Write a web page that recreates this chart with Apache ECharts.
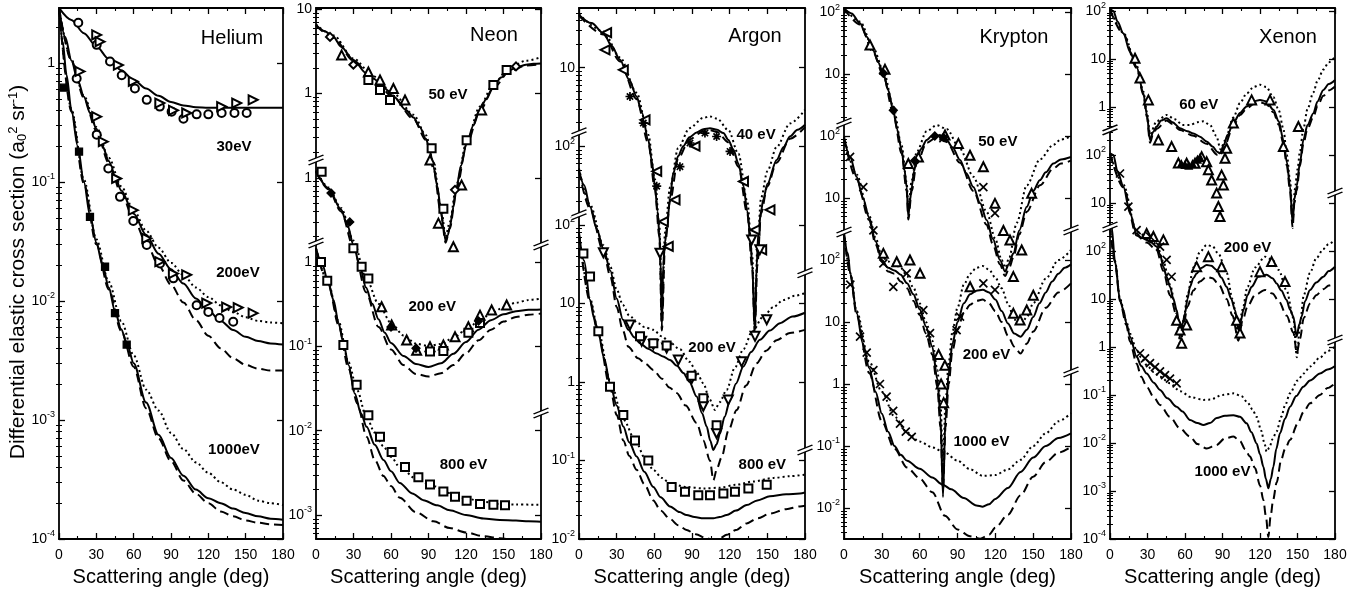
<!DOCTYPE html>
<html><head><meta charset="utf-8">
<script src="https://cdn.jsdelivr.net/npm/echarts@6/dist/echarts.min.js"></script>
<style>html,body{margin:0;padding:0;background:#fff}#c{width:1356px;height:599px}</style>
</head><body><div id="c"></div>
<script>
// ===== DATA: [scattering angle (deg), DCS (a0^2/sr)] =====
// Helium (no offsets)
const he30Solid=[[0,2.9],[10,2.3],[20,1.78],[30,1.38],[40,1.08],[50,0.87],[60,0.72],[70,0.61],[80,0.53],[90,0.47],[100,0.44],[110,0.425],[120,0.42],[140,0.42],[160,0.42],[180,0.42]];
const he30Circ=[[15.5,2.18],[30.3,1.42],[41,1.03],[50.4,0.79],[61,0.61],[70.5,0.49],[81,0.43],[90.5,0.39],[100,0.34],[110.6,0.37],[120,0.37],[130.7,0.38],[141,0.38],[150.8,0.38]];
const he30Tri=[[30.3,1.72],[33,1.51],[47.7,0.96],[59.7,0.70],[81,0.46],[92,0.40],[102.6,0.38],[130.7,0.43],[142.8,0.46],[156,0.49]];
const he200Solid=[[0,2.9],[5,1.65],[10,1.05],[15,0.72],[20,0.52],[25,0.38],[30,0.28],[35,0.2],[40,0.15],[45,0.11],[50,0.085],[60,0.054],[70,0.036],[80,0.025],[90,0.0185],[100,0.014],[110,0.0105],[120,0.0083],[130,0.0068],[140,0.0057],[150,0.005],[160,0.0046],[170,0.0044],[180,0.0043]];
const he200Dot=[[0,2.9],[10,1.06],[20,0.53],[30,0.29],[40,0.16],[50,0.092],[60,0.058],[70,0.039],[80,0.028],[90,0.021],[100,0.0165],[110,0.013],[120,0.0108],[130,0.0092],[140,0.0081],[150,0.0073],[160,0.0068],[170,0.0066],[180,0.0065]];
const he200Dash=[[0,2.9],[10,1.04],[20,0.51],[30,0.27],[40,0.145],[50,0.08],[60,0.049],[70,0.031],[80,0.02],[90,0.0137],[100,0.0097],[110,0.0069],[120,0.0051],[130,0.004],[140,0.0033],[150,0.0029],[160,0.0027],[170,0.0026],[180,0.0026]];
const he200Circ=[[14.2,0.74],[30.3,0.25],[39.6,0.13],[49,0.075],[59.7,0.047],[70.5,0.0295],[81.2,0.0207],[91.9,0.0155],[110.6,0.0092],[120,0.0081],[129,0.0072],[140,0.0067]];
const he200Tri=[[16.9,0.85],[30.3,0.354],[35.6,0.218],[46.3,0.107],[59.7,0.058],[70.5,0.0336],[81,0.0214],[91.9,0.017],[102.6,0.0166],[118.7,0.0096],[134.7,0.0089],[144,0.0088],[156,0.0079]];
const he1000Solid=[[0,2.9],[3,1.5],[6,0.8],[10,0.4],[15,0.2],[20,0.1],[25,0.052],[30,0.031],[35,0.02],[40,0.013],[45,0.0082],[50,0.0058],[55,0.0042],[60,0.003],[70,0.0014],[80,0.00075],[90,0.00048],[100,0.00034],[110,0.00026],[120,0.00022],[130,0.0002],[140,0.00018],[150,0.000165],[160,0.000155],[170,0.000148],[180,0.000145]];
const he1000Dot=[[0,2.9],[10,0.41],[20,0.105],[30,0.033],[40,0.0145],[50,0.0068],[60,0.0035],[70,0.0018],[80,0.0012],[90,0.00078],[100,0.00057],[110,0.00044],[120,0.00036],[130,0.0003],[140,0.00026],[150,0.000235],[160,0.00021],[170,0.0002],[180,0.000193]];
const he1000Dash=[[0,2.9],[10,0.39],[20,0.097],[30,0.03],[40,0.0125],[50,0.0056],[60,0.0028],[70,0.00125],[80,0.0007],[90,0.00045],[100,0.00031],[110,0.00024],[120,0.0002],[130,0.00017],[140,0.000155],[150,0.000143],[160,0.000137],[170,0.000133],[180,0.000131]];
const he1000Sq=[[4,0.62],[16.1,0.18],[24.9,0.051],[37,0.0194],[45,0.0079],[54.4,0.0043]];

// Neon (plotted with offsets: 50 eV x100, 200 eV x10)
const ne50Solid=[[0,6.5],[7,5.5],[14,4.7],[20,3.6],[30,2.5],[40,1.75],[46,1.5],[55,1.15],[62,0.92],[72,0.64],[78,0.52],[83,0.4],[88,0.29],[91,0.21],[94,0.135],[97,0.08],[100,0.04],[102,0.025],[103.7,0.018],[105.5,0.021],[107,0.026],[110,0.045],[112.5,0.078],[116,0.14],[120.5,0.256],[126,0.42],[131,0.64],[136,0.85],[142,1.2],[148,1.55],[155,1.9],[162,2.08],[168,2.2],[174,2.25],[180,2.28]];
const ne50Dot=[[0,6.6],[14,4.9],[30,2.6],[46,1.6],[62,1.0],[78,0.56],[88,0.32],[94,0.15],[100,0.045],[103.7,0.02],[107,0.03],[112.5,0.085],[120.5,0.27],[131,0.7],[142,1.3],[155,2.05],[168,2.45],[180,2.7]];
const ne50Dash=[[0,6.4],[14,4.6],[30,2.45],[46,1.45],[62,0.9],[78,0.5],[88,0.28],[94,0.13],[100,0.038],[103.7,0.017],[107,0.025],[112.5,0.075],[120.5,0.25],[131,0.62],[142,1.17],[155,1.85],[168,2.15],[180,2.22]];
const ne50Tri=[[20.5,2.86],[41.9,1.8],[51.2,1.45],[61.9,1.15],[71.2,0.84],[91.2,0.163],[97.9,0.029],[109.9,0.0152],[116.5,0.082],[132.5,0.64]];
const ne50Sq=[[41.9,1.45],[51.2,1.1],[59.2,0.84],[92.5,0.224],[101.9,0.043],[120.5,0.28],[141.9,1.26],[152.5,1.9]];
const ne50Dia=[[11.2,4.7],[29.9,2.2],[111.2,0.072],[160,2.1]];
const ne200Solid=[[0,1.2],[10,0.75],[20,0.42],[25,0.28],[30,0.16],[35,0.09],[40,0.05],[45,0.032],[50,0.021],[55,0.0145],[60,0.011],[70,0.0077],[80,0.0062],[90,0.0057],[100,0.0063],[110,0.0082],[120,0.0113],[130,0.0158],[140,0.0205],[150,0.024],[160,0.0262],[170,0.0272],[180,0.0275]];
const ne200Dot=[[0,1.22],[10,0.77],[20,0.44],[30,0.18],[40,0.065],[50,0.032],[60,0.019],[70,0.0135],[80,0.0108],[90,0.0101],[100,0.0107],[110,0.0127],[120,0.0157],[130,0.0198],[140,0.0245],[150,0.029],[160,0.033],[170,0.0355],[180,0.037]];
const ne200Dash=[[0,1.18],[10,0.73],[20,0.4],[30,0.15],[40,0.044],[50,0.017],[60,0.0092],[70,0.006],[80,0.0047],[90,0.0044],[100,0.0048],[110,0.006],[120,0.0083],[130,0.0118],[140,0.0158],[150,0.0197],[160,0.0224],[170,0.0238],[180,0.0245]];
const ne200Tri=[[52.5,0.0296],[60.5,0.018],[72.5,0.0119],[80.5,0.009],[91.2,0.0099],[101.9,0.0104],[111.2,0.013],[121.9,0.0171],[131.2,0.0235],[140.5,0.027],[152.5,0.031]];
const ne200Sq=[[4.5,1.18],[29.9,0.146],[36.5,0.088],[41.9,0.064],[91.2,0.0087],[101.9,0.0088],[121.9,0.0145],[131.2,0.019]];
const ne200Dia=[[12,0.66],[27,0.3],[60,0.017],[80,0.0095],[130,0.02]];
const ne800Solid=[[0,1.45],[5,0.95],[10,0.55],[14,0.355],[18,0.19],[22,0.109],[26,0.06],[31,0.0277],[36,0.016],[40.5,0.0111],[47,0.0068],[54,0.0045],[60,0.0033],[67,0.0024],[77,0.0018],[86,0.0015],[97,0.0013],[107,0.00114],[120,0.001],[134,0.00091],[147,0.00087],[160,0.00086],[170,0.00084],[180,0.00083]];
const ne800Dot=[[0,1.46],[10,0.56],[18,0.2],[26,0.065],[33,0.03],[40,0.015],[47,0.0095],[54,0.0065],[60,0.0049],[67,0.0037],[80,0.0027],[94,0.0022],[107,0.00182],[120,0.00157],[134,0.00143],[147,0.00135],[160,0.00133],[180,0.00132]];
const ne800Dash=[[0,1.44],[10,0.54],[18,0.18],[26,0.055],[33,0.021],[40.5,0.0085],[47,0.0045],[54,0.0029],[60,0.0022],[67,0.0016],[80,0.00108],[94,0.00084],[107,0.0007],[120,0.00062],[134,0.00056],[147,0.00053],[160,0.0005],[180,0.00048]];
const ne800Sq=[[4,1.0],[9,0.6],[21.9,0.104],[32.5,0.035],[41.9,0.0153],[51.2,0.0085],[60.5,0.0056],[71.2,0.0037],[81.9,0.0028],[91.2,0.0023],[101.9,0.0019],[111.2,0.00165],[120.5,0.00148],[131.2,0.00135],[141.9,0.00132],[151.2,0.0013]];

// Argon (offsets: 40 eV x1000, 200 eV x10)
const ar40Solid=[[0,47],[10,37],[19.4,27.6],[26,19],[32.7,12.6],[40,7],[45.9,4.3],[50,2.7],[55.2,1.2],[58,0.65],[60.5,0.31],[62.5,0.15],[64,0.078],[65,0.035],[66,0.005],[67,0.03],[68.5,0.06],[70,0.09],[72.5,0.22],[75,0.45],[79,0.75],[83,1.0],[88,1.3],[93.7,1.5],[99,1.65],[104.3,1.7],[110,1.62],[115,1.47],[119,1.2],[123,0.9],[127,0.6],[131,0.31],[134,0.15],[136.2,0.078],[138,0.03],[140,0.0046],[141.5,0.03],[142.8,0.078],[145,0.15],[146.8,0.21],[150,0.33],[157.4,0.67],[163,0.98],[168,1.33],[174,1.62],[180,1.88]];
const ar40Dot=[[0,48],[19.4,29],[32.7,13.5],[45.9,4.8],[55.2,1.4],[60.5,0.38],[64,0.1],[66,0.006],[68.5,0.08],[72.5,0.3],[79,0.95],[88,1.7],[99,2.3],[104.3,2.4],[110,2.25],[119,1.6],[127,0.8],[134,0.2],[138,0.04],[140,0.005],[142,0.05],[145,0.22],[150,0.48],[157.4,0.98],[168,1.95],[180,2.9]];
const ar40Dash=[[0,46],[19.4,26.5],[32.7,12],[45.9,4.0],[55.2,1.1],[60.5,0.28],[64,0.07],[66,0.0045],[68.5,0.055],[72.5,0.2],[79,0.7],[88,1.22],[99,1.55],[104.3,1.6],[110,1.52],[119,1.12],[127,0.55],[134,0.14],[138,0.028],[140,0.004],[142,0.03],[145,0.14],[150,0.31],[157.4,0.62],[168,1.25],[180,1.75]];
const ar40TriL=[[22,27.9],[20.7,16.9],[35.3,9.4],[52.6,2.17],[61.9,0.48],[67.2,0.11],[71.1,0.053],[76.5,0.208],[92.4,1.0],[131,0.356],[140.2,0.086],[145.5,0.048],[152.1,0.155]];
const ar40TriD=[[64.5,0.0435],[137.5,0.064],[144,0.048]];
const ar40Star=[[40.6,4.3],[51.2,1.97],[61.9,0.31],[80.4,0.55],[88.4,1.1],[100.3,1.47],[109.6,1.33],[120.3,0.86]];
const ar200Solid=[[0,50],[4,32],[8.8,17],[14,9],[19.4,5.0],[25,2.6],[30,1.15],[35,0.62],[39.3,0.46],[44,0.37],[48.6,0.31],[55,0.265],[61.9,0.23],[67,0.21],[72.5,0.19],[78,0.16],[83.1,0.13],[88,0.1],[93.7,0.065],[98,0.04],[101.7,0.027],[104.5,0.018],[107,0.0136],[109.5,0.016],[112.3,0.022],[116,0.036],[120.3,0.059],[125,0.095],[130.9,0.157],[137,0.24],[144.1,0.343],[152,0.45],[160.1,0.56],[170,0.68],[180,0.76]];
const ar200Dot=[[0,52],[8.8,18],[19.4,5.5],[25,2.9],[30,1.5],[35,0.95],[40,0.7],[47,0.56],[52,0.5],[59.2,0.46],[66,0.38],[72,0.32],[80.4,0.26],[88,0.18],[94,0.13],[99,0.096],[104,0.06],[108.3,0.044],[112,0.055],[117.6,0.079],[124,0.15],[130.9,0.26],[138,0.44],[146.8,0.68],[155,0.9],[162.7,1.1],[172,1.25],[180,1.35]];
const ar200Dash=[[0,48],[8.8,16],[19.4,4.6],[25,2.2],[30,0.9],[35,0.45],[39.3,0.28],[47,0.2],[53,0.17],[59.2,0.142],[66,0.11],[72,0.085],[77.8,0.072],[85,0.05],[93.7,0.03],[99,0.018],[104.3,0.01],[107,0.0056],[110,0.008],[113.6,0.011],[119,0.024],[125.6,0.044],[133,0.09],[141.5,0.173],[149,0.25],[157.4,0.34],[168,0.42],[180,0.46]];
const ar200TriD=[[19.4,4.4],[40.6,0.53],[49.9,0.33],[59.2,0.30],[69.8,0.27],[79.1,0.19],[89.7,0.11],[99,0.049],[109.6,0.022],[118.9,0.059],[129.5,0.18],[140.2,0.38],[149.5,0.62]];
const ar200Sq=[[48.6,0.38],[59.2,0.31],[69.8,0.29],[89.7,0.12],[99,0.062],[109.6,0.028]];
const ar800Solid=[[0,78],[4,35],[8.8,11],[12,6.5],[15.4,4.2],[20,2],[24.7,0.96],[30,0.5],[35.3,0.27],[40,0.17],[45.9,0.112],[52,0.072],[59.2,0.046],[65,0.034],[72.5,0.026],[80,0.022],[85.7,0.0202],[92,0.019],[99,0.0184],[107,0.0184],[112,0.019],[117.6,0.0202],[125,0.023],[133.5,0.027],[142,0.031],[152.1,0.035],[165,0.037],[176,0.038],[180,0.039]];
const ar800Dot=[[0,80],[8.8,11.5],[15.4,4.4],[24.7,1.05],[35.3,0.33],[45.9,0.166],[52,0.11],[59.2,0.076],[66,0.06],[72.5,0.051],[85,0.046],[99,0.044],[112.3,0.045],[125,0.049],[138.8,0.054],[155,0.06],[168,0.063],[180,0.066]];
const ar800Dash=[[0,76],[8.8,10.5],[15.4,4.0],[24.7,0.85],[30,0.38],[35.3,0.18],[40,0.115],[45.9,0.076],[52,0.05],[59.2,0.031],[65,0.023],[72.5,0.018],[79,0.015],[85.7,0.013],[93,0.0115],[101.7,0.0102],[107,0.0096],[112,0.0102],[117.6,0.0113],[125,0.013],[133.5,0.0158],[142,0.0183],[152.1,0.021],[165,0.024],[176,0.026],[180,0.0265]];
const ar800Sq=[[3.5,43],[8.8,22],[15.4,4.4],[24.7,0.87],[35.3,0.38],[44.6,0.18],[55.2,0.1],[73.8,0.046],[84.4,0.04],[95,0.036],[104.3,0.036],[115,0.038],[124.2,0.04],[134.9,0.044],[149.5,0.049]];

// Krypton (offsets: 50 eV x1e4, 200 eV x100)
const kr50Solid=[[0,115],[6,95],[12.7,66],[18,40],[23.3,24],[27,15.5],[31.2,10.3],[35,5.5],[39.1,2.6],[42,1.3],[45.7,0.6],[48,0.28],[49.7,0.15],[51,0.05],[52.3,0.09],[53.7,0.15],[55.5,0.27],[57.6,0.41],[61,0.62],[65.6,0.86],[69,0.98],[73.5,1.04],[77,1.0],[81.4,0.86],[86,0.66],[92,0.41],[97,0.25],[102.6,0.15],[108,0.082],[113.1,0.044],[118,0.022],[123.7,0.01],[127.7,0.0065],[130.5,0.0085],[134.3,0.0128],[139,0.03],[144.9,0.072],[150,0.13],[155.4,0.195],[160,0.26],[166,0.36],[172,0.42],[180,0.46]];
const kr50Dot=[[0,118],[12.7,70],[23.3,26],[31.2,11.5],[39.1,3.0],[45.7,0.7],[49.7,0.18],[51,0.07],[53.7,0.19],[57.6,0.55],[65.6,1.2],[73.5,1.5],[81.4,1.3],[92,0.62],[102.6,0.22],[113.1,0.06],[120,0.022],[125,0.01],[128,0.0075],[131,0.011],[137,0.04],[144.9,0.16],[155.4,0.42],[166,0.72],[172,0.88],[180,0.98]];
const kr50Dash=[[0,112],[12.7,63],[23.3,22],[31.2,9.5],[39.1,2.3],[45.7,0.52],[49.7,0.13],[51,0.045],[53.7,0.13],[57.6,0.36],[65.6,0.78],[73.5,0.95],[81.4,0.8],[92,0.37],[102.6,0.13],[113.1,0.037],[118,0.018],[123.7,0.0085],[127.7,0.0055],[131,0.0075],[134.3,0.011],[139,0.026],[144.9,0.06],[155.4,0.16],[166,0.3],[172,0.36],[180,0.4]];
const kr50Tri=[[20.6,29.4],[32.5,11.9],[51,0.36],[59,0.46],[80.1,1.04],[90.7,0.76],[99.9,0.49],[110.5,0.32],[119.7,0.082],[126.4,0.03],[131.6,0.021],[134.3,0.0054],[140.9,0.0145],[148.8,0.119]];
const kr50X=[[78.8,0.92],[110.5,0.15],[119.7,0.057]];
const kr50Fill=[[31.2,10.3],[39.1,2.6],[56,0.4],[72,1.0],[78.8,0.95]];
const kr200Solid=[[0,95],[5,45],[10,22],[15,10],[20,4.8],[25,2.0],[30,1.0],[35,0.75],[40,0.68],[45,0.58],[50,0.42],[55,0.28],[60,0.16],[65,0.085],[70,0.04],[74,0.012],[76.5,0.003],[78.5,0.00015],[80.5,0.003],[83,0.015],[86,0.045],[90,0.1],[95,0.2],[100,0.28],[105,0.32],[110,0.33],[115,0.3],[120,0.23],[125,0.15],[130,0.095],[135,0.065],[140,0.058],[145,0.075],[150,0.12],[155,0.2],[160,0.3],[165,0.45],[170,0.6],[175,0.75],[180,0.85]];
const kr200Dot=[[0,98],[10,24],[20,5.2],[25,2.3],[30,1.15],[35,0.95],[40,0.85],[45,0.75],[50,0.55],[55,0.36],[60,0.2],[65,0.1],[70,0.05],[74,0.017],[76.5,0.005],[78.5,0.0005],[80.5,0.005],[83,0.022],[86,0.07],[90,0.17],[95,0.4],[100,0.6],[105,0.75],[110,0.8],[115,0.7],[120,0.52],[125,0.35],[130,0.2],[135,0.11],[140,0.09],[145,0.12],[150,0.2],[160,0.5],[170,1.0],[180,1.45]];
const kr200Dash=[[0,92],[10,20],[20,4.4],[25,1.8],[30,0.95],[35,0.65],[40,0.6],[45,0.45],[50,0.35],[55,0.22],[60,0.13],[65,0.065],[70,0.03],[74,0.009],[76.5,0.002],[78.5,0.0002],[80.5,0.002],[83,0.01],[86,0.035],[90,0.075],[95,0.14],[100,0.19],[105,0.22],[110,0.23],[115,0.2],[120,0.15],[125,0.1],[130,0.06],[135,0.04],[140,0.031],[145,0.045],[150,0.07],[160,0.17],[170,0.3],[180,0.42]];
const kr200X=[[4.8,46],[15.3,15],[23.3,3.0],[31.2,0.885],[39.1,0.37],[49.7,0.61],[62.9,0.156],[68.2,0.066],[89.3,0.074],[92,0.122],[110.5,0.42],[119.7,0.33]];
const kr200Tri=[[31.2,1.28],[41.8,0.94],[52.3,1.0],[60.3,0.61],[75,0.03],[77,0.01],[79,0.005],[80,0.02],[100,0.37],[134.3,0.138],[139.6,0.108],[144.9,0.156],[150.1,0.27]];
const kr1000Solid=[[0,270],[3,130],[5,60],[10,14],[15,4.5],[20,1.8],[25,0.75],[30,0.33],[35,0.17],[40,0.1],[45,0.072],[50,0.058],[60,0.043],[70,0.031],[78,0.024],[85,0.02],[95,0.0145],[105,0.011],[110,0.0105],[115,0.0115],[120,0.014],[130,0.021],[140,0.038],[150,0.065],[160,0.1],[170,0.135],[180,0.16]];
const kr1000Dot=[[0,275],[5,62],[10,15],[20,2.3],[30,0.75],[40,0.3],[50,0.165],[60,0.118],[70,0.095],[80,0.078],[90,0.058],[100,0.042],[110,0.033],[120,0.034],[130,0.042],[140,0.06],[150,0.1],[160,0.16],[170,0.25],[180,0.34]];
const kr1000Dash=[[0,265],[5,58],[10,13],[20,1.5],[30,0.25],[40,0.09],[50,0.045],[60,0.03],[70,0.018],[80,0.0075],[90,0.0045],[100,0.0035],[108,0.0032],[115,0.0037],[120,0.0048],[130,0.0078],[140,0.016],[150,0.032],[160,0.055],[170,0.078],[180,0.097]];
const kr1000X=[[5,40],[12.7,5.8],[18,3.2],[23.3,1.68],[28.5,1.0],[33.8,0.625],[39,0.37],[44.4,0.23],[49,0.17],[53.7,0.14]];

// Xenon (offsets: 60 eV x1e5, 200 eV x100)
const xe60Solid=[[0,110],[2.7,100],[6,60],[10.7,34],[16,14],[21.3,6.9],[26.7,1.93],[29.5,0.7],[32,0.205],[34.5,0.3],[37.3,0.39],[41,0.52],[45.3,0.58],[50,0.48],[56,0.36],[62,0.31],[66.7,0.28],[72,0.24],[77.3,0.19],[82,0.15],[86,0.115],[88,0.108],[91,0.16],[94,0.26],[98.7,0.46],[104,0.75],[109.3,1.02],[115,1.3],[120,1.4],[125,1.3],[130.7,0.87],[135,0.5],[138.7,0.205],[141.5,0.07],[144,0.022],[146.1,0.0038],[147.5,0.012],[149.3,0.022],[152,0.07],[154.7,0.205],[158,0.42],[162.7,0.74],[166,1.3],[170.7,2.26],[175,3.0],[180,3.65]];
const xe60Dot=[[0,112],[10.7,35],[21.3,7.2],[26.7,2.1],[29.5,0.8],[32,0.27],[37.3,0.5],[45.3,0.68],[52,0.55],[58,0.42],[64,0.42],[70,0.48],[74.7,0.5],[80,0.42],[85,0.25],[88.5,0.13],[92,0.2],[98.7,0.6],[104,1.2],[109.3,1.9],[115,2.6],[120,2.9],[125,2.6],[130.7,1.6],[135,0.85],[138.7,0.35],[141.5,0.1],[144,0.03],[146.1,0.005],[148,0.02],[150,0.05],[152,0.12],[154.7,0.35],[158,0.9],[162.7,2.0],[166,3.5],[170.7,6],[175,8.5],[180,11]];
const xe60Dash=[[0,106],[10.7,33],[21.3,6.5],[26.7,1.8],[29.5,0.62],[32,0.18],[34.5,0.27],[37.3,0.35],[45.3,0.52],[50,0.44],[56,0.33],[66.7,0.25],[77.3,0.17],[86,0.1],[88,0.095],[91,0.14],[98.7,0.4],[104,0.68],[109.3,0.92],[115,1.15],[120,1.25],[125,1.15],[130.7,0.77],[135,0.43],[138.7,0.17],[141.5,0.06],[144,0.018],[146.1,0.003],[147.5,0.01],[149.3,0.018],[152,0.06],[154.7,0.17],[158,0.35],[162.7,0.62],[166,1.05],[170.7,1.7],[175,2.2],[180,2.65]];
const xe60Tri=[[20,10.3],[24,4.0],[30.7,1.4],[38.7,0.205],[49.3,0.149],[54.7,0.068],[61.3,0.067],[68,0.067],[73.3,0.092],[77.3,0.072],[78.7,0.049],[81.3,0.03],[85.3,0.016],[86.7,0.0084],[88,0.0052],[89.3,0.038],[90.7,0.0237],[92,0.085],[93.3,0.138],[98.7,0.46],[113.3,1.4],[128,1.4],[138.7,0.149],[150.7,0.39]];
const xe60Fill=[[57,0.065],[60,0.062],[63,0.06],[66,0.065],[70,0.08],[72,0.088]];
const xe200Solid=[[0,108],[2.7,100],[6,45],[10.7,22],[16,6.1],[21.3,2.3],[25,1.9],[29.3,1.7],[33,1.5],[37.3,1.23],[40,0.85],[42.7,0.47],[45.3,0.29],[48,0.18],[50.7,0.1],[53.3,0.059],[55,0.035],[56.5,0.0193],[58,0.03],[60,0.05],[62,0.1],[64,0.18],[66.7,0.27],[69.3,0.34],[73,0.44],[77.3,0.51],[81,0.49],[85.3,0.4],[89,0.28],[93.3,0.18],[97,0.1],[100,0.059],[102.7,0.0226],[104.7,0.035],[106.7,0.059],[110,0.12],[113.3,0.18],[118.7,0.29],[125.3,0.32],[130,0.27],[133.3,0.21],[137,0.15],[141.3,0.095],[144,0.06],[146.7,0.043],[149.3,0.0164],[151.5,0.03],[153.3,0.043],[156,0.09],[160,0.154],[165,0.22],[170.7,0.29],[175,0.38],[180,0.47]];
const xe200Dot=[[0,110],[10.7,24],[21.3,2.5],[29.3,2.0],[37.3,1.4],[42.7,0.6],[48,0.2],[53.3,0.05],[56.5,0.01],[59,0.04],[62,0.12],[66.7,0.45],[72,0.95],[77.3,1.33],[82,1.25],[87,0.85],[93.3,0.35],[98,0.1],[102.7,0.019],[106,0.06],[110,0.18],[116,0.45],[124,0.76],[130,0.65],[135,0.4],[141.3,0.15],[146.7,0.04],[149.5,0.0061],[152,0.03],[155,0.12],[160,0.35],[165,0.7],[170.7,1.1],[175,1.4],[180,1.7]];
const xe200Dash=[[0,105],[10.7,21],[21.3,2.1],[29.3,1.5],[37.3,1.05],[42.7,0.38],[48,0.12],[53.3,0.045],[56.5,0.014],[59,0.03],[62,0.07],[66.7,0.15],[72,0.23],[77.3,0.29],[82,0.27],[87,0.2],[93.3,0.1],[98,0.045],[102.7,0.0135],[106,0.035],[110,0.07],[116,0.12],[124,0.154],[130,0.13],[135,0.09],[141.3,0.045],[146.7,0.02],[149.5,0.0074],[152,0.015],[155,0.04],[160,0.08],[165,0.12],[170.7,0.16],[175,0.19],[180,0.21]];
const xe200Tri=[[29.3,2.3],[34.7,2.0],[42.7,1.7],[53.3,0.036],[56,0.0226],[57.3,0.012],[61.3,0.0286],[69.3,0.47],[78.7,0.76],[89.3,0.47],[101.3,0.036],[104,0.0195],[120,0.37],[129.3,0.6],[140,0.23]];
const xe200X=[[8,41],[14.7,8.4],[21.3,2.7],[32,2.0],[40,1.23],[45.3,0.65],[49.3,0.29]];
const xe1000Solid=[[0,330],[1.3,320],[4,60],[8,9.5],[10.7,5.9],[13,3.2],[16,1.64],[21.3,0.63],[25,0.4],[29.3,0.28],[35,0.18],[40,0.127],[46,0.085],[53.3,0.057],[58,0.045],[64,0.03],[70,0.026],[74.7,0.0237],[80,0.026],[85.3,0.033],[92,0.037],[98.7,0.038],[104,0.035],[109.3,0.0257],[113,0.017],[117.3,0.0098],[120,0.0058],[122.7,0.0032],[124.7,0.0018],[126.7,0.00114],[128.7,0.0018],[130.7,0.0032],[133,0.0075],[136,0.0159],[140,0.032],[144,0.057],[149,0.095],[154.7,0.149],[160,0.2],[168,0.28],[174,0.34],[180,0.4]];
const xe1000Dot=[[0,335],[4,62],[8,10],[13,3.5],[16,1.9],[21.3,0.85],[25,0.6],[30,0.4],[35,0.3],[40,0.24],[48,0.175],[56,0.12],[65,0.09],[74.7,0.079],[80,0.08],[90,0.1],[98.7,0.108],[105,0.095],[110,0.07],[114,0.05],[117.3,0.035],[121,0.018],[123.5,0.01],[125.3,0.0066],[127.5,0.008],[130,0.012],[133.3,0.0175],[137,0.035],[140,0.06],[144,0.108],[150,0.2],[155,0.28],[160,0.39],[168,0.6],[174,0.82],[180,1.02]];
const xe1000Dash=[[0,325],[4,58],[8,9],[13,2.9],[16,1.3],[21.3,0.45],[25,0.24],[29.3,0.149],[35,0.09],[40,0.062],[48,0.035],[56,0.02],[64,0.0136],[70,0.0095],[77.3,0.0077],[85,0.009],[92,0.0125],[98.7,0.0136],[104,0.011],[108,0.0075],[112,0.0052],[116,0.003],[120,0.0013],[122.7,0.00065],[124.7,0.0003],[126.7,0.00011],[128.5,0.0003],[130.5,0.00065],[133.3,0.0015],[137,0.0045],[140,0.0075],[144,0.0115],[150,0.025],[155,0.045],[160,0.067],[168,0.1],[174,0.14],[180,0.175]];
const xe1000X=[[24,0.74],[28,0.58],[32,0.46],[36,0.38],[40,0.31],[44,0.26],[48,0.22],[53.3,0.175]];

// Display offsets of the stacked energies (multiplicative factors)
const neFactor={e50:100,e200:10,e800:1};
const arFactor={e40:1000,e200:10,e800:1};
const krFactor={e50:1e4,e200:100,e1000:1};
const xeFactor={e60:1e5,e200:100,e1000:1};

// Tick labels (exponent of the plotted decade -> printed label)
const heTickExp=[-4,-3,-2,-1,0];
const heTickText=['10{s|-4}','10{s|-3}','10{s|-2}','10{s|-1}','1'];
const neTickExp=[-3,-2,-1,0,1,2,3];
const neTickText=['10{s|-3}','10{s|-2}','10{s|-1}','1','1','1','10'];
const arTickExp=[-2,-1,0,1,2,3,4];
const arTickText=['10{s|-2}','10{s|-1}','1','10','10{s|2}','10{s|2}','10'];
const krTickExp=[-2,-1,0,1,2,3,4,5,6];
const krTickText=['10{s|-2}','10{s|-1}','1','10','10{s|2}','10','10{s|2}','10','10{s|2}'];
const xeTickExp=[-4,-3,-2,-1,0,1,2,3,4,5,6,7];
const xeTickText=['10{s|-4}','10{s|-3}','10{s|-2}','10{s|-1}','1','10','10{s|2}','10','10{s|2}','1','10','10{s|2}'];
const xTicks=[0,30,60,90,120,150,180];

// ===== LAYOUT / STYLE =====
const FONT='"Liberation Sans", Arial, Helvetica, sans-serif';
const panels=[
 {name:'Helium',left:59,width:224,lo:-4,hi:0.462,exps:heTickExp,texts:heTickText,brL:[],brR:[],nameAt:[139,0.21],
  tags:[['30eV',140.6,-0.706],['200eV',143.8,-1.765],['1000eV',140.6,-3.252]]},
 {name:'Neon',left:316,width:225,lo:-3.285,hi:3.015,exps:neTickExp,texts:neTickText,brL:[1.211,0.226],brR:[0.203,-1.79],nameAt:[142.4,2.694],
  tags:[['50 eV',105.6,1.982],['200 eV',93,-0.533],['800 eV',118,-2.407]]},
 {name:'Argon',left:579,width:226,lo:-2,hi:4.76,exps:arTickExp,texts:arTickText,brL:[3.172,2.127],brR:[1.389,-0.866],nameAt:[140.2,4.395],
  tags:[['40 eV',141,3.146],['200 eV',106,0.433],['800 eV',146,-1.057]]},
 {name:'Krypton',left:844,width:227,lo:-2.5,hi:6.065,exps:krTickExp,texts:krTickText,brL:[4.21,2.452],brR:[2.484,0.194],nameAt:[134.8,5.597],
  tags:[['50 eV',122,3.903],['200 eV',113,0.468],['1000 eV',109,-0.935]]},
 {name:'Xenon',left:1110,width:225,lo:-4,hi:7.06,exps:xeTickExp,texts:xeTickText,brL:[4.521,2.5],brR:[3.208,0.146],nameAt:[142.4,6.4375],
  tags:[['60 eV',71,5.042],['200 eV',110,2.0625],['1000 eV',90,-2.604]]}
];
const SOLID={color:'#000',width:2,type:'solid'};
const DOT={color:'#000',width:2,type:[2,3]};
const DASH={color:'#000',width:2,type:[9,5]};
const SYM={
 circ:{symbol:'emptyCircle',size:8,rot:0},
 triR:{symbol:'emptyTriangle',size:9,rot:-90},
 triL:{symbol:'emptyTriangle',size:9,rot:90},
 triD:{symbol:'emptyTriangle',size:9,rot:180},
 triU:{symbol:'emptyTriangle',size:9,rot:0},
 sq:{symbol:'emptyRect',size:8,rot:0},
 sqF:{symbol:'rect',size:7,rot:0},
 dia:{symbol:'emptyDiamond',size:8,rot:0},
 diaF:{symbol:'diamond',size:8,rot:0},
 triF:{symbol:'triangle',size:7,rot:0},
 x:{symbol:'path://M0,0L10,10M10,0L0,10',size:8,rot:0,stroke:true},
 star:{symbol:'path://M5,0L5,10M0,5L10,5M1.5,1.5L8.5,8.5M8.5,1.5L1.5,8.5',size:9,rot:0,stroke:true}
};
const lg=v=>Math.log10(v);

function line(gi,data,f,ls){
  const d=data.slice().sort((a,b)=>a[0]-b[0]).map(p=>[p[0],lg(p[1]*f)]);
  return {type:'line',xAxisIndex:gi*2,yAxisIndex:gi*4,data:d,showSymbol:false,symbol:'none',
    smooth:0.3,smoothMonotone:'x',lineStyle:ls,silent:true,z:3,animation:false};
}
function pts(gi,data,f,key){
  const s=SYM[key];
  const o={type:'scatter',xAxisIndex:gi*2,yAxisIndex:gi*4,data:data.map(p=>[p[0],lg(p[1]*f)]),
    symbol:s.symbol,symbolSize:s.size,symbolRotate:s.rot,silent:true,z:4,clip:true};
  if(s.stroke){o.itemStyle={color:'rgba(0,0,0,0)',borderColor:'#000',borderWidth:1.7,opacity:1};}
  else {o.itemStyle={color:'#000',borderColor:'#000',borderWidth:1.3,opacity:1};}
  return o;
}

const option={animation:false,backgroundColor:'#fff',grid:[],xAxis:[],yAxis:[],series:[],
 graphic:[{type:'text',x:18,y:272,rotation:Math.PI/2,
   style:{text:'Differential elastic cross section (a{sub|0}{sup|2} sr{sup|-1})',fill:'#000',
     font:'21px '+FONT,align:'center',verticalAlign:'middle',
     rich:{sub:{fontSize:13,fontFamily:FONT,padding:[9,0,0,0]},sup:{fontSize:13,fontFamily:FONT,padding:[0,0,10,0]}}}}]};

const axLine={show:true,onZero:false,lineStyle:{color:'#000',width:1.8}};
panels.forEach((p,gi)=>{
  option.grid.push({left:p.left,top:8,width:p.width,height:531});
  const xBase={type:'value',gridIndex:gi,min:0,max:180,interval:30,axisLine:axLine,
    axisTick:{show:true,inside:true,length:6,lineStyle:{color:'#000',width:1.3}},
    minorTick:{show:true,splitNumber:2,length:3,lineStyle:{color:'#000',width:1.1}},
    splitLine:{show:false}};
  option.xAxis.push(Object.assign({},xBase,{position:'bottom',
    axisLabel:{show:true,color:'#000',fontSize:14,fontFamily:FONT,margin:9,customValues:xTicks},
    name:'Scattering angle (deg)',nameLocation:'middle',nameGap:28,
    nameTextStyle:{color:'#000',fontSize:20,fontFamily:FONT}}));
  option.xAxis.push(Object.assign({},xBase,{position:'top',axisLabel:{show:false}}));
  const majors=p.exps.slice();
  const minors=[];
  for(let n=Math.floor(p.lo);n<=Math.ceil(p.hi);n++){for(let k=2;k<=9;k++){const v=n+Math.log10(k);if(v>p.lo&&v<p.hi)minors.push(v);}}
  const labelMap={};p.exps.forEach((e,i)=>labelMap[e]=p.texts[i]);
  const yBase={type:'value',gridIndex:gi,min:p.lo,max:p.hi,splitLine:{show:false}};
  option.yAxis.push(Object.assign({},yBase,{position:'left',axisLine:axLine,
    axisTick:{show:true,inside:true,length:6,customValues:majors,lineStyle:{color:'#000',width:1.3}},
    axisLabel:{show:true,customValues:majors,margin:4,color:'#000',fontSize:14,fontFamily:FONT,
      formatter:v=>labelMap[Math.round(v)]||'',
      rich:{s:{fontSize:9,fontFamily:FONT,color:'#000',padding:[0,0,10,0]}}}}));
  option.yAxis.push(Object.assign({},yBase,{position:'left',axisLine:{show:false},
    axisTick:{show:true,inside:true,length:3,customValues:minors,lineStyle:{color:'#000',width:1}},axisLabel:{show:false}}));
  option.yAxis.push(Object.assign({},yBase,{position:'right',axisLine:axLine,
    axisTick:{show:true,inside:true,length:6,customValues:majors,lineStyle:{color:'#000',width:1.3}},axisLabel:{show:false}}));
  option.yAxis.push(Object.assign({},yBase,{position:'right',axisLine:{show:false},
    axisTick:{show:true,inside:true,length:3,customValues:minors,lineStyle:{color:'#000',width:1}},axisLabel:{show:false}}));

  // axis-break marks
  const brData=p.brL.map(b=>[0,b]).concat(p.brR.map(b=>[180,b]));
  if(brData.length){
    option.series.push({type:'scatter',xAxisIndex:gi*2,yAxisIndex:gi*4,data:brData,clip:false,silent:true,z:10,
      symbol:'path://M0,6L14,0L14,4L0,10Z',symbolSize:[15,10],itemStyle:{color:'#fff',borderWidth:0,opacity:1}});
    option.series.push({type:'scatter',xAxisIndex:gi*2,yAxisIndex:gi*4,data:brData,clip:false,silent:true,z:11,
      symbol:'path://M0,6L14,0M0,10L14,4',symbolSize:[15,10],itemStyle:{color:'rgba(0,0,0,0)',borderColor:'#000',borderWidth:1.5,opacity:1}});
  }
  // panel name + energy labels
  option.series.push({type:'scatter',xAxisIndex:gi*2,yAxisIndex:gi*4,clip:false,silent:true,z:12,symbolSize:0,
    itemStyle:{opacity:1},data:[{value:p.nameAt,name:p.name}],
    label:{show:true,position:'inside',formatter:'{b}',color:'#000',opacity:1,fontSize:20,fontFamily:FONT}});
  option.series.push({type:'scatter',xAxisIndex:gi*2,yAxisIndex:gi*4,clip:false,silent:true,z:12,symbolSize:0,
    itemStyle:{opacity:1},data:p.tags.map(t=>({value:[t[1],t[2]],name:t[0]})),
    label:{show:true,position:'inside',formatter:'{b}',color:'#000',opacity:1,fontSize:15,fontWeight:'bold',fontFamily:FONT}});
});

const S=option.series;
// Helium
S.push(line(0,he30Solid,1,SOLID),pts(0,he30Circ,1,'circ'),pts(0,he30Tri,1,'triR'));
S.push(line(0,he200Solid,1,SOLID),line(0,he200Dot,1,DOT),line(0,he200Dash,1,DASH),pts(0,he200Circ,1,'circ'),pts(0,he200Tri,1,'triR'));
S.push(line(0,he1000Solid,1,SOLID),line(0,he1000Dot,1,DOT),line(0,he1000Dash,1,DASH),pts(0,he1000Sq,1,'sqF'));
// Neon
S.push(line(1,ne50Solid,neFactor.e50,SOLID),line(1,ne50Dot,neFactor.e50,DOT),line(1,ne50Dash,neFactor.e50,DASH),
  pts(1,ne50Tri,neFactor.e50,'triU'),pts(1,ne50Sq,neFactor.e50,'sq'),pts(1,ne50Dia,neFactor.e50,'dia'));
S.push(line(1,ne200Solid,neFactor.e200,SOLID),line(1,ne200Dot,neFactor.e200,DOT),line(1,ne200Dash,neFactor.e200,DASH),
  pts(1,ne200Tri,neFactor.e200,'triU'),pts(1,ne200Sq,neFactor.e200,'sq'),pts(1,ne200Dia,neFactor.e200,'diaF'));
S.push(line(1,ne800Solid,neFactor.e800,SOLID),line(1,ne800Dot,neFactor.e800,DOT),line(1,ne800Dash,neFactor.e800,DASH),
  pts(1,ne800Sq,neFactor.e800,'sq'));
// Argon
S.push(line(2,ar40Solid,arFactor.e40,SOLID),line(2,ar40Dot,arFactor.e40,DOT),line(2,ar40Dash,arFactor.e40,DASH),
  pts(2,ar40TriL,arFactor.e40,'triL'),pts(2,ar40TriD,arFactor.e40,'triD'),pts(2,ar40Star,arFactor.e40,'star'));
S.push(line(2,ar200Solid,arFactor.e200,SOLID),line(2,ar200Dot,arFactor.e200,DOT),line(2,ar200Dash,arFactor.e200,DASH),
  pts(2,ar200TriD,arFactor.e200,'triD'),pts(2,ar200Sq,arFactor.e200,'sq'));
S.push(line(2,ar800Solid,arFactor.e800,SOLID),line(2,ar800Dot,arFactor.e800,DOT),line(2,ar800Dash,arFactor.e800,DASH),
  pts(2,ar800Sq,arFactor.e800,'sq'));
// Krypton
S.push(line(3,kr50Solid,krFactor.e50,SOLID),line(3,kr50Dot,krFactor.e50,DOT),line(3,kr50Dash,krFactor.e50,DASH),
  pts(3,kr50Tri,krFactor.e50,'triU'),pts(3,kr50X,krFactor.e50,'x'),pts(3,kr50Fill,krFactor.e50,'diaF'));
S.push(line(3,kr200Solid,krFactor.e200,SOLID),line(3,kr200Dot,krFactor.e200,DOT),line(3,kr200Dash,krFactor.e200,DASH),
  pts(3,kr200X,krFactor.e200,'x'),pts(3,kr200Tri,krFactor.e200,'triU'));
S.push(line(3,kr1000Solid,krFactor.e1000,SOLID),line(3,kr1000Dot,krFactor.e1000,DOT),line(3,kr1000Dash,krFactor.e1000,DASH),
  pts(3,kr1000X,krFactor.e1000,'x'));
// Xenon
S.push(line(4,xe60Solid,xeFactor.e60,SOLID),line(4,xe60Dot,xeFactor.e60,DOT),line(4,xe60Dash,xeFactor.e60,DASH),
  pts(4,xe60Tri,xeFactor.e60,'triU'),pts(4,xe60Fill,xeFactor.e60,'triF'));
S.push(line(4,xe200Solid,xeFactor.e200,SOLID),line(4,xe200Dot,xeFactor.e200,DOT),line(4,xe200Dash,xeFactor.e200,DASH),
  pts(4,xe200Tri,xeFactor.e200,'triU'),pts(4,xe200X,xeFactor.e200,'x'));
S.push(line(4,xe1000Solid,xeFactor.e1000,SOLID),line(4,xe1000Dot,xeFactor.e1000,DOT),line(4,xe1000Dash,xeFactor.e1000,DASH),
  pts(4,xe1000X,xeFactor.e1000,'x'));

const chart=echarts.init(document.getElementById('c'),null,{renderer:'canvas'});
chart.setOption(option);
</script></body></html>
